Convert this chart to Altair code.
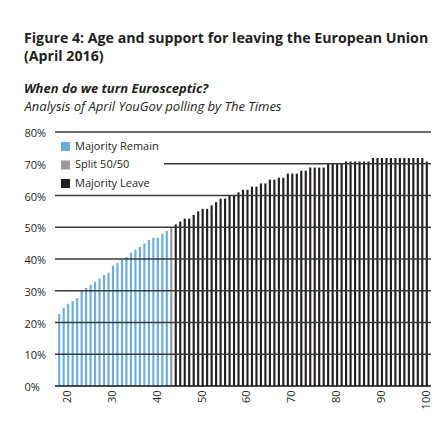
import altair as alt
import pandas as pd

# ---- data ----
ages = list(range(18, 101))
support = [
    22.7, 24.6, 25.9, 26.8, 27.7, 30.1, 30.9, 31.9, 32.8, 33.8,   # 18-27
    35.0, 35.7, 37.9, 38.8, 39.7, 40.7, 42.0, 42.9, 43.8, 44.9,   # 28-37
    46.0, 46.7, 46.7, 48.0, 48.9, 50.0, 50.9, 51.8, 52.7, 52.7,   # 38-47
    53.9, 55.0, 55.8, 55.8, 56.9, 57.9, 59.0, 59.0, 60.0, 60.0,   # 48-57
    61.0, 61.8, 61.8, 62.8, 62.8, 63.8, 63.8, 65.0, 65.0, 65.6,   # 58-67
    65.6, 66.9, 66.9, 66.9, 67.8, 67.8, 68.8, 68.8, 68.8, 68.8,   # 68-77
    70.0, 70.0, 70.0, 70.0, 70.7, 70.7, 70.7, 70.7, 70.7, 70.7,   # 78-87
    71.8, 71.8, 71.8, 71.8, 71.8, 71.8, 71.8, 71.8, 71.8, 71.8,   # 88-97
    71.8, 71.8, 70.7,                                             # 98-100
]
categories = ["Majority Remain", "Split 50/50", "Majority Leave"]
colors = ["#6aaee0", "#9b9b9b", "#231f20"]
grid_levels = [10, 20, 30, 40, 50, 60, 70, 80]
base_level = [0]
x_ticks = [20, 30, 40, 50, 60, 70, 80, 90, 100]
y_ticks = [0, 10, 20, 30, 40, 50, 60, 70, 80]


def group_of(v):
    if v < 50:
        return categories[0]
    if v == 50:
        return categories[1]
    return categories[2]


df = pd.DataFrame({"age": ages, "support": support,
                   "group": [group_of(v) for v in support]})
grid_df = pd.DataFrame({"support": grid_levels})
base_df = pd.DataFrame({"support": base_level})

FONT = "Open Sans"
TEXT = "#231f20"

y_axis = alt.Axis(values=y_ticks, labelExpr="datum.value + '%'", grid=False,
                  ticks=False, domain=False, labelAlign="left",
                  labelPadding=31, labelFont=FONT, labelFontSize=11,
                  labelColor=TEXT, labelOffset=1.5,
                  title="Analysis of April YouGov polling by The Times",
                  titleAngle=0, titleAlign="left", titleBaseline="alphabetic",
                  titleX=-31, titleY=-22, titleFont=FONT, titleFontSize=13,
                  titleFontStyle="italic", titleFontWeight="normal",
                  titleColor=TEXT)
y_scale = alt.Scale(domain=[0, 80])

bars = alt.Chart(df).mark_bar().encode(
    x=alt.X(
        "age:O",
        scale=alt.Scale(paddingInner=0.52, paddingOuter=0.7),
        axis=alt.Axis(values=x_ticks, labelAngle=270, ticks=False, domain=False,
                      title=None, labelFont=FONT, labelFontSize=11,
                      labelPadding=4, labelColor=TEXT),
    ),
    y=alt.Y("support:Q", scale=y_scale, axis=y_axis),
    color=alt.Color(
        "group:N",
        scale=alt.Scale(domain=categories, range=colors),
        legend=alt.Legend(title=None, orient="none", legendX=0, legendY=4,
                          fillColor="white", padding=5, symbolType="square",
                          symbolSize=81, symbolStrokeWidth=0, labelFont=FONT,
                          labelFontSize=11, labelColor=TEXT, labelOffset=4,
                          rowPadding=6.5),
    ),
)

grid = alt.Chart(grid_df).mark_rule(color="#3a3a3a", strokeWidth=1.3).encode(
    y=alt.Y("support:Q", scale=y_scale, axis=y_axis)
)
base = alt.Chart(base_df).mark_rule(color="#111111", strokeWidth=1.4).encode(
    y=alt.Y("support:Q", scale=y_scale, axis=y_axis)
)

chart = alt.layer(bars, grid, base).properties(
    width=376,
    height=254,
    padding={"left": 16, "top": 24, "right": 5, "bottom": 5},
    title=alt.TitleParams(
        text=["Figure 4: Age and support for leaving the European Union",
              "(April 2016)"],
        subtitle="When do we turn Eurosceptic?",
        anchor="start", frame="bounds", font=FONT, fontSize=14.2,
        fontWeight="bold", color=TEXT, lineHeight=17.5,
        subtitleFont=FONT, subtitleFontSize=13, subtitleFontStyle="italic",
        subtitleFontWeight="bold", subtitleColor=TEXT, subtitlePadding=19,
        offset=4,
    ),
).configure_view(stroke=None)

chart.save("out.html", embed_options={"renderer": "svg", "actions": False})
